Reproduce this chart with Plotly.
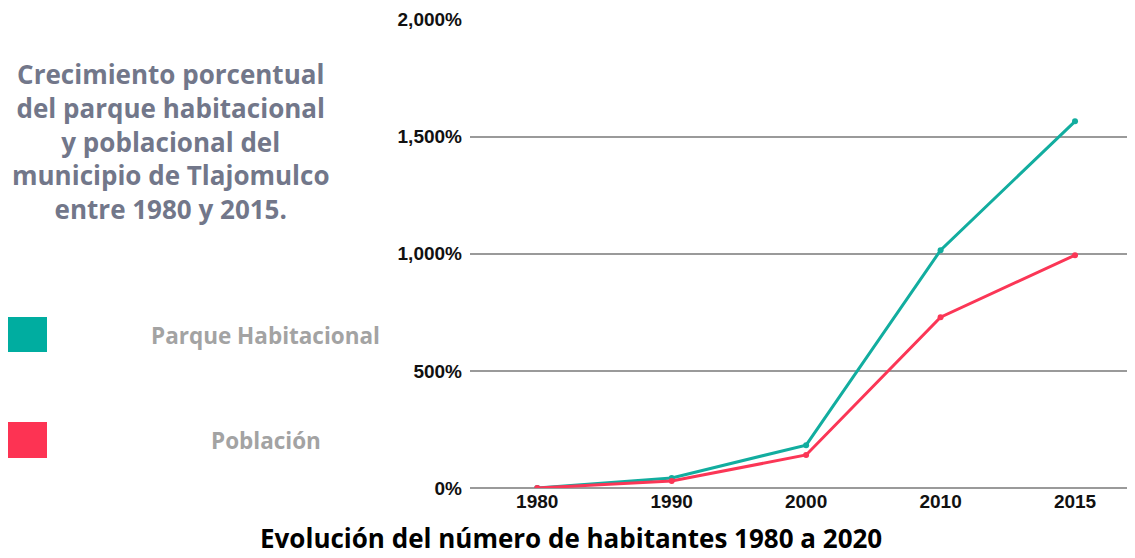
import plotly.graph_objects as go

years = ["1980", "1990", "2000", "2010", "2015"]
parque = [0, 43, 183, 1015, 1565]
poblacion = [0, 30, 141, 729, 994]
y_ticks = [0, 500, 1000, 1500, 2000]
y_labels = ["0%", "500%", "1,000%", "1,500%", "2,000%"]

TEAL = "#12ad9f"
RED = "#fb3656"

OFF = 8  # page body margin
W, H = 1135 - OFF, 558 - OFF
L, R, T, B = 470 - OFF, 0, 19 - OFF, 70
PW = W - L - R
PH = H - T - B

def px(x):
    return (x - OFF - L) / PW

def py(y):
    return (H - B - (y - OFF)) / PH

fig = go.Figure()
fig.add_trace(go.Scatter(x=years, y=parque, mode="lines+markers", name="Parque Habitacional",
                         line=dict(color=TEAL, width=3), marker=dict(size=6, color=TEAL)))
fig.add_trace(go.Scatter(x=years, y=poblacion, mode="lines+markers", name="Población",
                         line=dict(color=RED, width=3), marker=dict(size=6, color=RED)))

tickfont = dict(family="Liberation Sans", size=19, color="#111111", weight="bold")
fig.update_layout(
    width=W, height=H,
    margin=dict(l=L, r=R, t=T, b=B),
    paper_bgcolor="white", plot_bgcolor="white",
    showlegend=False,
    xaxis=dict(type="category", range=[-0.5, 4.446], showgrid=False, zeroline=False,
               showline=False, ticks="", tickfont=tickfont),
    yaxis=dict(range=[0, 2002], tickvals=y_ticks, ticktext=y_labels, showgrid=True,
               gridcolor="#9a9a9a", gridwidth=1.5, zeroline=True, zerolinecolor="#9a9a9a",
               zerolinewidth=1.5, showline=False, ticks="", ticklabelstandoff=7,
               tickfont=tickfont),
)

shapes = [
    dict(type="rect", xref="paper", yref="paper", x0=px(8), x1=px(47), y0=py(352), y1=py(317),
         fillcolor="#00ada0", line=dict(width=0)),
    dict(type="rect", xref="paper", yref="paper", x0=px(8), x1=px(47), y0=py(458), y1=py(422),
         fillcolor="#fd3353", line=dict(width=0)),
]
fig.update_layout(shapes=shapes)

fig.add_annotation(
    xref="paper", yref="paper", x=px(171), y=py(142), xanchor="center", yanchor="middle",
    text="Crecimiento porcentual<br>del parque habitacional<br>y poblacional del<br>municipio de Tlajomulco<br>entre 1980 y 2015.",
    showarrow=False, align="center",
    font=dict(family="Open Sans", size=26, color="#72778a", weight="bold"),
)
fig.add_annotation(
    xref="paper", yref="paper", x=px(265), y=py(335), xanchor="center", yanchor="middle",
    text="Parque Habitacional", showarrow=False,
    font=dict(family="Open Sans", size=22.5, color="#a3a3a3", weight="bold"),
)
fig.add_annotation(
    xref="paper", yref="paper", x=px(266), y=py(440), xanchor="center", yanchor="middle",
    text="Población", showarrow=False,
    font=dict(family="Open Sans", size=22.5, color="#a3a3a3", weight="bold"),
)
fig.add_annotation(
    xref="paper", yref="paper", x=px(571), y=py(558), xanchor="center", yanchor="bottom",
    text="Evolución del número de habitantes 1980 a 2020", showarrow=False,
    font=dict(family="Open Sans", size=26, color="#000000", weight="bold"),
)

fig.write_html("out.html")
